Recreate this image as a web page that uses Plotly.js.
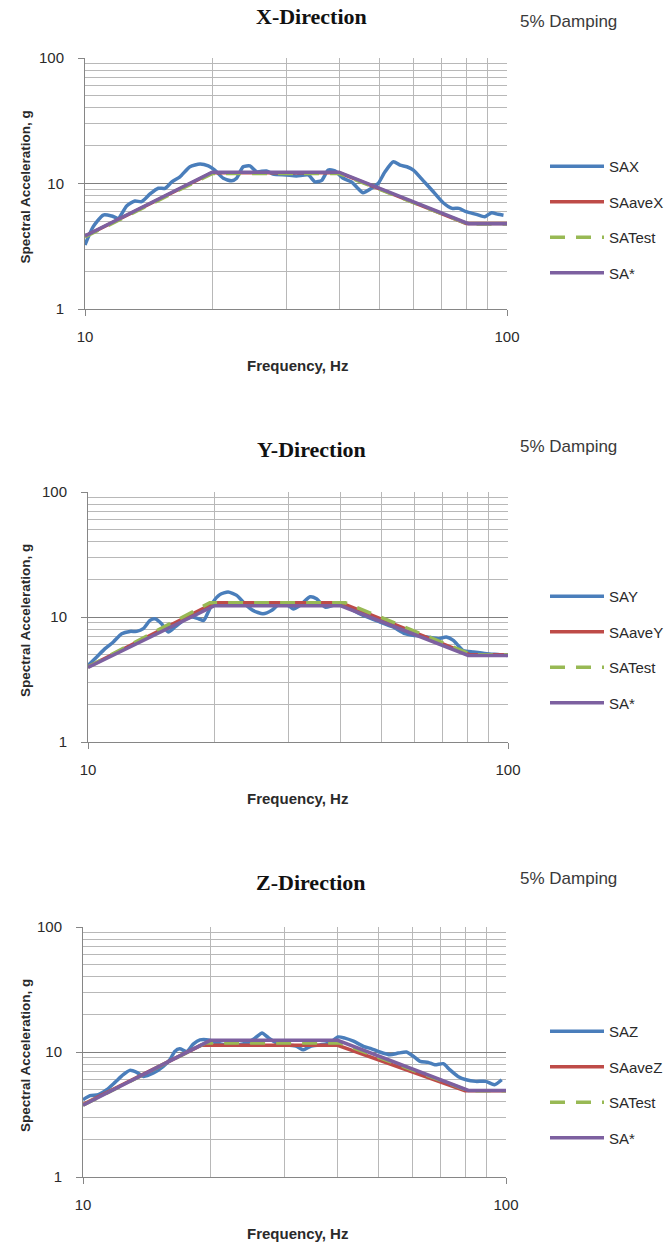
<!DOCTYPE html>
<html>
<head>
<meta charset="utf-8">
<script src="https://cdn.plot.ly/plotly-3.0.1.min.js"></script>
<style>html,body{margin:0;padding:0;background:#fff;}#chart{width:669px;height:1247px;}</style>
</head>
<body>
<div id="chart"></div>
<script>
// ---------- DATA ----------
const panelTitles = ["X-Direction", "Y-Direction", "Z-Direction"];
const dampingNote = "5% Damping";
const xAxisTitle = "Frequency, Hz";
const yAxisTitle = "Spectral Acceleration, g";
const xTickVals = [10, 100];
const xTickText = ["10", "100"];
const yTickVals = [1, 10, 100];
const yTickText = ["1", "10", "100"];
const minorVals = [2, 3, 4, 5, 6, 7, 8, 9, 20, 30, 40, 50, 60, 70, 80, 90];

const seriesNamesX = ["SAX", "SAaveX", "SATest", "SA*"];
const seriesNamesY = ["SAY", "SAaveY", "SATest", "SA*"];
const seriesNamesZ = ["SAZ", "SAaveZ", "SATest", "SA*"];

// X-direction
const sax_f = [10, 10.46, 11.05, 11.57, 12.0, 12.55, 13.13, 13.62, 14.26, 14.92, 15.48, 16.06, 16.79, 17.73, 18.73, 19.6, 20.3, 21.27, 22.25, 22.87, 23.7, 24.6, 25.5, 26.9, 27.9, 30.0, 31.7, 33.8, 35.1, 36.4, 37.7, 39.1, 40.9, 42.8, 44.3, 45.6, 47.7, 49.5, 51.4, 53.8, 55.8, 57.9, 60.0, 63.2, 66.9, 70.6, 74.1, 76.9, 80.0, 84.6, 88.6, 91.9, 95.3, 98.1];
const sax_v = [3.24, 4.53, 5.61, 5.51, 5.28, 6.62, 7.26, 7.16, 8.25, 9.16, 9.16, 10.3, 11.3, 13.6, 14.3, 13.8, 12.8, 11.0, 10.5, 11.0, 13.6, 13.8, 12.4, 12.6, 11.9, 11.7, 11.5, 11.7, 10.3, 10.6, 12.8, 12.6, 11.0, 10.3, 9.16, 8.45, 9.16, 10.0, 12.4, 14.9, 14.0, 13.6, 12.8, 10.6, 8.6, 7.03, 6.34, 6.34, 5.96, 5.68, 5.44, 5.85, 5.68, 5.58];
const saveX_f = [10, 20, 40, 80, 100];
const saveX_v = [3.8, 12.2, 12.2, 4.8, 4.8];
const satestX_f = [10, 20, 40, 81, 100];
const satestX_v = [3.75, 12.0, 12.0, 4.75, 4.75];
const sastarX_f = [10, 20, 40, 81, 100];
const sastarX_v = [3.82, 12.3, 12.3, 4.78, 4.78];

// Y-direction
const say_f = [10.0, 10.49, 10.98, 11.49, 12.03, 12.59, 13.06, 13.54, 14.05, 14.43, 14.97, 15.53, 16.11, 16.86, 17.67, 18.33, 18.86, 19.33, 19.86, 20.6, 21.56, 22.6, 23.6, 24.7, 26.1, 27.4, 28.6, 29.96, 30.8, 32.0, 33.8, 35.0, 36.7, 38.4, 40.1, 45.2, 49.6, 53.2, 56.8, 59.4, 64.1, 68.3, 71.3, 74.1, 78.2, 82.8, 89.0, 95.6, 99.4];
const say_v = [4.1, 4.79, 5.58, 6.31, 7.35, 7.67, 7.67, 8.06, 9.39, 9.69, 8.84, 7.59, 8.32, 9.39, 10.0, 9.69, 9.39, 10.96, 13.2, 15.1, 15.85, 14.9, 12.8, 11.3, 10.6, 11.3, 12.8, 12.4, 11.6, 12.4, 14.5, 14.0, 12.0, 12.4, 12.5, 10.3, 9.1, 8.32, 7.35, 7.13, 6.92, 6.7, 6.92, 6.5, 5.4, 5.25, 5.09, 5.0, 4.93];
const saveY_f = [10, 20, 40, 81, 100];
const saveY_v = [3.98, 13.0, 13.0, 5.0, 5.0];
const satestY_f = [10, 19.5, 41, 82, 100];
const satestY_v = [3.98, 13.0, 13.0, 5.0, 5.0];
const sastarY_f = [10, 20, 40, 80.4, 100];
const sastarY_v = [3.95, 12.3, 12.3, 4.93, 4.93];

// Z-direction
const saz_f = [10.0, 10.39, 10.87, 11.38, 11.9, 12.45, 12.9, 13.4, 13.9, 14.67, 15.48, 16.05, 16.48, 16.93, 17.6, 18.25, 18.9, 19.8, 20.7, 21.9, 23.1, 24.4, 25.5, 26.5, 27.5, 28.7, 30.3, 32.0, 33.2, 34.5, 36.3, 38.3, 40.1, 41.6, 43.6, 46.0, 48.1, 50.3, 53.2, 55.6, 58.2, 60.5, 62.7, 65.5, 67.9, 71.1, 73.6, 77.0, 80.5, 84.8, 89.6, 93.9, 97.7];
const saz_v = [4.15, 4.47, 4.55, 4.99, 5.71, 6.58, 7.13, 6.87, 6.38, 6.79, 7.67, 8.68, 10.1, 10.6, 10.1, 11.6, 12.5, 12.5, 11.8, 11.4, 11.4, 11.8, 12.9, 14.2, 12.9, 11.8, 11.4, 11.1, 10.4, 11.1, 11.4, 11.8, 13.2, 12.9, 12.2, 11.1, 10.6, 10.0, 9.5, 9.8, 10.0, 9.2, 8.4, 8.26, 7.9, 8.06, 7.22, 6.38, 6.0, 5.82, 5.82, 5.47, 6.0];
const saveZ_f = [10, 19, 40, 80, 100];
const saveZ_v = [3.8, 11.3, 11.3, 4.9, 4.9];
const satestZ_f = [10, 19.5, 40.5, 81.5, 100];
const satestZ_v = [3.75, 11.8, 11.8, 4.9, 4.9];
const sastarZ_f = [10, 20, 40, 81.5, 100];
const sastarZ_v = [3.75, 12.4, 12.4, 4.93, 4.93];

// ---------- STYLE ----------
const W = 669, H = 1247;
const colBlue = "#4a7ebb", colRed = "#be4b48", colGreen = "#98b954", colPurple = "#7d60a0";
const sans = "Liberation Sans, Arial, sans-serif";
const panels = [
  {names: seriesNamesX, data: [[sax_f, sax_v], [saveX_f, saveX_v], [satestX_f, satestX_v], [sastarX_f, sastarX_v]],
   left: 85, right: 507, top: 58, bottom: 309, titleY: 16, noteY: 21, legY: 150},
  {names: seriesNamesY, data: [[say_f, say_v], [saveY_f, saveY_v], [satestY_f, satestY_v], [sastarY_f, sastarY_v]],
   left: 88, right: 508, top: 492, bottom: 742, titleY: 450, noteY: 446, legY: 580},
  {names: seriesNamesZ, data: [[saz_f, saz_v], [saveZ_f, saveZ_v], [satestZ_f, satestZ_v], [sastarZ_f, sastarZ_v]],
   left: 83, right: 506, top: 927, bottom: 1177, titleY: 882, noteY: 878, legY: 1015}
];

const traces = [];
const layout = {
  width: W, height: H,
  margin: {l: 0, r: 0, t: 0, b: 0},
  paper_bgcolor: "#ffffff", plot_bgcolor: "#ffffff",
  showlegend: true,
  annotations: []
};
const colors = [colBlue, colRed, colGreen, colPurple];

panels.forEach((p, i) => {
  const n = i + 1;
  const xa = "x" + (n === 1 ? "" : n), ya = "y" + (n === 1 ? "" : n);
  const legName = "legend" + (n === 1 ? "" : n);
  p.data.forEach((d, k) => {
    const tr = {
      x: d[0], y: d[1], type: "scatter", mode: "lines", name: p.names[k],
      xaxis: xa, yaxis: ya, legend: legName, legendgroup: "g" + n + "_" + k,
      line: {color: colors[k], width: 3.5}
    };
    if (k === 0) { tr.line.shape = "spline"; tr.line.smoothing = 0.6; }
    if (k === 2) { tr.line.dash = "15px,11px"; }
    traces.push(tr);
  });
  const xKey = "xaxis" + (n === 1 ? "" : n), yKey = "yaxis" + (n === 1 ? "" : n);
  layout[xKey] = {
    type: "log", range: [1, 2], domain: [p.left / W, p.right / W], anchor: ya,
    showline: true, linecolor: "#868686", linewidth: 1, mirror: false, zeroline: false,
    showgrid: true, gridcolor: "#b0b0b0", gridwidth: 1,
    tickmode: "array", tickvals: xTickVals, ticktext: xTickText,
    ticks: "outside", ticklen: 6, tickcolor: "#868686", ticklabelstandoff: 8,
    tickfont: {family: sans, size: 15, color: "#2a2a2a"},
    minor: {tickmode: "array", tickvals: minorVals, showgrid: true, gridcolor: "#b8b8b8", gridwidth: 1, ticks: ""},
    fixedrange: true
  };
  layout[yKey] = {
    type: "log", range: [0, 2], domain: [1 - p.bottom / H, 1 - p.top / H], anchor: xa,
    showline: true, linecolor: "#868686", linewidth: 1, mirror: false, zeroline: false,
    showgrid: true, gridcolor: "#808080", gridwidth: 1,
    tickmode: "array", tickvals: yTickVals, ticktext: yTickText,
    ticks: "outside", ticklen: 6, tickcolor: "#868686", ticklabelstandoff: 11,
    tickfont: {family: sans, size: 15, color: "#2a2a2a"},
    minor: {tickmode: "array", tickvals: minorVals, showgrid: true, gridcolor: "#b8b8b8", gridwidth: 1, ticks: ""},
    fixedrange: true
  };
  layout[legName] = {
    x: 545 / W, xanchor: "left", y: 1 - p.legY / H, yanchor: "top",
    bgcolor: "rgba(0,0,0,0)", borderwidth: 0,
    font: {family: sans, size: 15, color: "#2a2a2a"},
    itemwidth: 54, tracegroupgap: 13, traceorder: "grouped", itemclick: false
  };
  layout.annotations.push(
    {text: "<b>" + panelTitles[i] + "</b>", xref: "paper", yref: "paper", x: 311 / W, y: 1 - p.titleY / H,
     xanchor: "center", yanchor: "middle", showarrow: false,
     font: {family: "Liberation Serif, Times New Roman, serif", size: 22, color: "#111111"}},
    {text: dampingNote, xref: "paper", yref: "paper", x: 568 / W, y: 1 - p.noteY / H,
     xanchor: "center", yanchor: "middle", showarrow: false,
     font: {family: sans, size: 17, color: "#3a3a3a"}},
    {text: "<b>" + xAxisTitle + "</b>", xref: "paper", yref: "paper", x: 297 / W, y: 1 - (p.bottom + 56) / H,
     xanchor: "center", yanchor: "middle", showarrow: false,
     font: {family: sans, size: 15, color: "#2a2a2a"}},
    {text: "<b>" + yAxisTitle + "</b>", xref: "paper", yref: "paper", x: 25 / W, y: 1 - ((p.top + p.bottom) / 2 + 4) / H,
     xanchor: "center", yanchor: "middle", showarrow: false, textangle: -90,
     font: {family: sans, size: 13.5, color: "#2a2a2a"}}
  );
});

Plotly.newPlot("chart", traces, layout, {staticPlot: true, displayModeBar: false});
</script>
</body>
</html>
